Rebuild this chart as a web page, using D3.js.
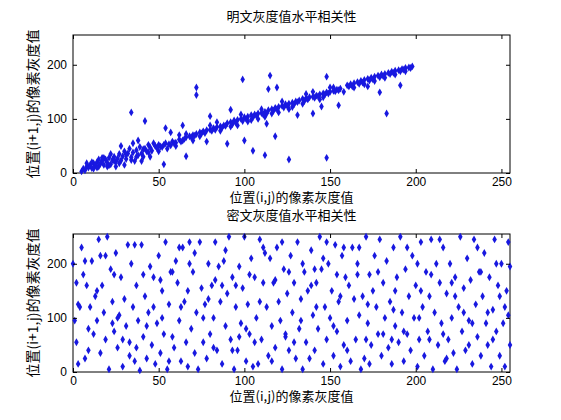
<!DOCTYPE html>
<html><head><meta charset="utf-8">
<script src="https://cdn.jsdelivr.net/npm/d3@7"></script>
<style>body{margin:0;background:#fff}text{font-family:"Noto Sans CJK SC",sans-serif}</style>
</head><body><div id="chart"></div>
<script>
// plain image: (x, y) pairs
let plainPts = [[5,3],[6,8],[7,5],[8,12],[9,10],[10,15],[11,9],[12,18],[13,14],[14,20],[15,12],[16,17],[17,22],[18,15],[19,25],[20,19],[21,28],[22,16],[23,24],[24,30],[25,21],[26,27],[27,35],[28,23],[29,31],[30,40],[31,26],[32,36],[33,45],[34,29],[35,38],[36,22],[37,42],[38,33],[39,48],[40,36],[41,30],[42,45],[43,40],[44,52],[45,47],[46,41],[47,55],[48,50],[50,52],[52,48],[54,55],[56,53],[58,58],[60,56],[62,62],[64,60],[66,66],[68,68],[70,70],[72,72],[74,75],[76,77],[78,79],[80,80],[82,83],[84,85],[86,86],[88,88],[90,92],[92,94],[94,97],[96,98],[98,100],[100,103],[102,104],[104,107],[106,108],[108,110],[110,111],[112,113],[114,116],[116,118],[118,120],[120,122],[122,124],[124,127],[126,128],[128,130],[130,132],[132,134],[134,137],[136,138],[138,140],[140,141],[142,143],[144,145],[146,147],[148,149],[150,150],[152,152],[154,154],[156,156],[160,162],[162,164],[164,166],[166,168],[168,170],[170,172],[172,174],[174,176],[176,178],[178,180],[180,182],[182,183],[184,185],[186,187],[188,189],[190,190],[192,192],[194,194],[196,195],[198,197],
[60,50],[66,72],[74,68],[80,88],[86,78],[92,86],[98,108],[104,98],[110,118],[116,110],[122,132],[128,122],[134,128],[140,150],[146,140],[152,158],[158,150],[164,158],[170,164],[176,170],[182,176],[188,182],[194,188],[30,15],[25,12],[18,28],[40,22],[35,55],[45,30],[50,40],[28,50],[22,35],[15,25],[12,8],[38,60],[20,12],[55,45],[62,70],[70,60],[78,58],[84,94],[96,88],[102,95],[108,100],[112,104],[120,112],[126,118],[136,146],[144,136],[150,158],
[51,49],[57,51],[63,58],[69,66],[75,73],[81,78],[87,84],[93,90],[99,96],[105,103],[111,108],[117,115],[123,121],[129,127],[135,133],[141,139],[147,145],[153,151],[163,160],[169,167],[175,173],[181,179],[187,185],[193,191],
[8,18],[11,20],[14,10],[17,28],[21,14],[24,22],[27,18],[31,34],[34,24],[37,30],[41,44],[44,38],[49,46],[53,52],[59,55],[65,63],[71,69],[77,74],[83,80],[89,87],[95,93],[101,100],[107,106],[113,110],[119,118],[125,124],[131,131],[137,136],[143,142],[149,147],[155,153],[161,160],[167,165],[173,171],[179,177],[185,183],[191,188],[197,194],
[99,173],[72,158],[72,144],[115,180],[34,112],[42,96],[54,83],[148,178],[148,28],[126,25],[183,110],[191,162],[179,149],[112,33],[105,41],[90,54],[53,16],[66,31],[145,123],[131,107],[113,91],[118,68],[119,158],[92,117],[114,155],[80,105],[64,88],[57,75],[100,60],[140,110],[155,125],[172,160]];

// cipher image: (x, y) pairs
let cipherPts = [[0,200],[1,95],[2,55],[3,125],[3,15],[5,230],[6,180],[7,25],[8,160],[9,80],[10,120],[11,205],[12,70],[13,140],[14,95],[15,245],[16,35],[17,160],[18,110],[19,60],[20,250],[21,5],[22,190],[23,130],[24,75],[25,220],[26,45],[27,105],[28,175],[29,10],[30,135],[31,85],[32,235],[33,55],[34,200],[35,120],[36,20],[37,160],[38,95],[39,3],[40,235],[41,65],[42,140],[43,25],[44,110],[45,195],[46,50],[47,175],[48,15],[49,90],[50,215],[51,35],[52,150],[53,70],[54,240],[55,5],[56,125],[57,185],[58,65],[59,45],[60,205],[61,165],[62,95],[63,20],[64,230],[65,130],[66,55],[67,150],[68,240],[69,80],[70,185],[71,35],[72,110],[73,5],[74,240],[75,155],[76,55],[77,125],[78,25],[79,200],[80,70],[81,160],[82,100],[83,240],[84,40],[85,195],[86,130],[87,15],[88,205],[89,85],[90,145],[91,250],[92,60],[93,175],[94,5],[95,120],[96,40],[97,195],[98,90],[99,155],[100,250],[101,20],[102,125],[103,70],[104,210],[105,10],[106,175],[107,100],[108,15],[109,245],[110,60],[111,165],[112,220],[113,120],[114,30],[115,210],[116,85],[117,165],[118,45],[119,230],[120,130],[121,95],[122,5],[123,190],[124,70],[125,145],[126,40],[127,215],[128,110],[129,165],[130,25],[131,240],[132,80],[133,135],[134,5],[135,185],[136,55],[137,150],[138,25],[139,225],[140,105],[141,40],[142,165],[143,80],[144,250],[145,190],[146,15],[147,120],[148,60],[149,200],[150,100],[151,150],[152,30],[153,235],[154,75],[155,130],[156,10],[157,215],[158,50],[159,175],[160,95],[161,160],[162,20],[163,230],[164,135],[165,60],[166,200],[167,105],[168,5],[169,140],[170,25],[171,250],[172,90],[173,180],[174,50],[175,150],[176,215],[177,120],[178,70],[179,245],[180,30],[181,165],[182,100],[183,205],[184,45],[185,130],[186,15],[187,230],[188,85],[189,175],[190,55],[191,250],[192,110],[193,20],[194,190],[195,70],[196,140],[197,40],[198,215],[199,100],[200,160],[201,10],[202,60],[203,240],[204,120],[205,30],[206,185],[207,75],[208,140],[209,245],[210,5],[211,110],[212,200],[213,50],[214,165],[215,90],[216,230],[217,20],[218,145],[219,60],[220,200],[221,100],[222,35],[223,175],[224,5],[225,120],[226,250],[227,75],[228,155],[229,40],[230,210],[231,95],[232,170],[233,15],[234,245],[235,125],[236,65],[237,185],[238,30],[239,140],[240,220],[241,90],[242,50],[243,175],[244,10],[245,115],[246,245],[247,75],[248,160],[249,30],[250,200],[251,90],[252,10],[253,150],[254,240],[255,50],[255,195],[254,105],
[4,120],[14,150],[19,215],[26,100],[33,30],[41,180],[47,120],[58,185],[62,230],[71,220],[79,135],[87,160],[93,40],[101,80],[106,55],[118,170],[124,65],[133,95],[139,160],[146,210],[152,85],[158,230],[166,180],[171,60],[178,185],[187,115],[193,75],[201,200],[208,60],[214,245],[221,165],[228,110],[236,230],[242,110],[249,140],[7,205],[23,90],[37,45],[52,100],[67,10],[83,170],[97,65],[111,230],[126,185],[141,190],[156,140],[172,125],[186,60],[203,150],[218,25],[233,90],[247,200],
[2,165],[9,40],[16,215],[24,180],[29,60],[36,235],[43,85],[51,170],[56,20],[63,120],[68,200],[76,100],[82,45],[89,225],[95,160],[103,180],[109,130],[116,20],[122,240],[129,55],[134,200],[142,120],[148,240],[154,180],[160,40],[167,230],[173,15],[181,70],[188,150],[195,230],[202,100],[209,180],[216,70],[223,140],[231,50],[238,185],[245,60],[252,120]];

let xTicks = [0, 50, 100, 150, 200, 250];
let yTicks = [0, 100, 200];
let titles = ["明文灰度值水平相关性", "密文灰度值水平相关性"];
let xLabel = "位置(i,j)的像素灰度值";
let yLabel = "位置(i+1,j)的像素灰度值";

let svg = d3.select("#chart").append("svg").attr("width", 561).attr("height", 420);

function panel(pts, title, top, bottom) {
    let left = 73, right = 510;
    let x = d3.scaleLinear().domain([0, 255]).range([left, right]);
    let y = d3.scaleLinear().domain([0, 255]).range([bottom, top]);
    let g = svg.append("g");
    g.append("rect").attr("x", left).attr("y", top).attr("width", right - left).attr("height", bottom - top)
        .attr("fill", "#fff").attr("stroke", "#000").attr("stroke-width", 1);
    g.selectAll("path.pt").data(pts).enter().append("path")
        .attr("d", d3.symbol(d3.symbolDiamond, 18)())
        .attr("transform", d => `translate(${x(d[0])},${y(d[1])})`)
        .attr("fill", "#1818e0");
    let ax = g.append("g").attr("transform", `translate(0,${bottom})`)
        .call(d3.axisBottom(x).tickValues(xTicks).tickSizeInner(-4).tickSizeOuter(0).tickPadding(4));
    let axT = g.append("g").attr("transform", `translate(0,${top})`)
        .call(d3.axisTop(x).tickValues(xTicks).tickSizeInner(-4).tickSizeOuter(0).tickFormat(""));
    let ay = g.append("g").attr("transform", `translate(${left},0)`)
        .call(d3.axisLeft(y).tickValues(yTicks).tickSizeInner(-4).tickSizeOuter(0).tickPadding(6));
    let ayR = g.append("g").attr("transform", `translate(${right},0)`)
        .call(d3.axisRight(y).tickValues(yTicks).tickSizeInner(-4).tickSizeOuter(0).tickFormat(""));
    [ax, axT, ay, ayR].forEach(a => { a.select(".domain").remove(); a.selectAll("text").style("font-family", "Liberation Sans, Arial").style("font-size", "12px").attr("fill", "#000"); });
    svg.append("text").attr("x", (left + right) / 2).attr("y", top - 14).attr("text-anchor", "middle")
        .style("font-size", "13px").text(title);
    svg.append("text").attr("x", (left + right) / 2).attr("y", bottom + 29).attr("text-anchor", "middle")
        .style("font-size", "13px").text(xLabel);
    svg.append("text").attr("transform", `translate(38,${(top + bottom) / 2}) rotate(-90)`).attr("text-anchor", "middle")
        .style("font-size", "14px").text(yLabel);
}

panel(plainPts, titles[0], 35, 173);
panel(cipherPts, titles[1], 234, 372);
</script></body></html>
